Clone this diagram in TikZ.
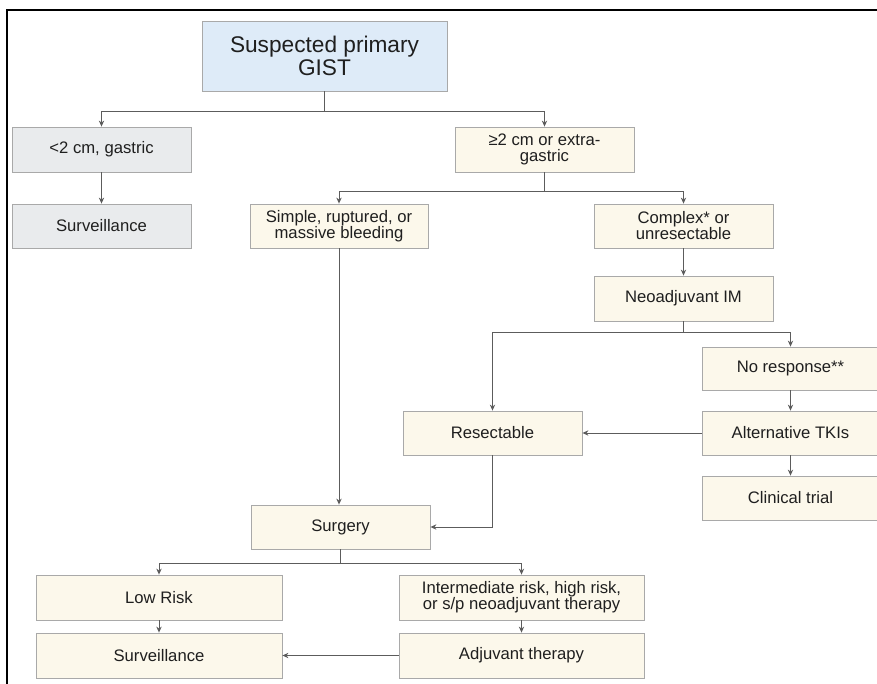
\documentclass[tikz,border=0pt]{standalone}
\usepackage{fontspec}
\setmainfont{Liberation Sans}
\usetikzlibrary{arrows.meta,shadows}
\definecolor{bluefill}{HTML}{DEEBF8}
\definecolor{grayfill}{HTML}{E9EBED}
\definecolor{creamfill}{HTML}{FCF8EB}
\definecolor{boxline}{HTML}{A9A9A9}
\definecolor{conn}{HTML}{5C5C5C}
\begin{document}
\begin{tikzpicture}[x=0.75pt,y=-0.75pt,
  base/.style={draw=boxline, line width=0.6pt, align=center, inner sep=0pt,
    text=black!88, font=\fontsize{12.5}{12}\selectfont,
    drop shadow={shadow xshift=0.8pt, shadow yshift=-0.8pt, opacity=0.18, fill=black}},
  bluebox/.style={base, fill=bluefill, font=\fontsize{17}{17}\selectfont},
  graybox/.style={base, fill=grayfill},
  creambox/.style={base, fill=creamfill},
  arr/.style={draw=conn, line width=0.7pt, -{Stealth[length=4.5pt,width=4pt]}},
  ln/.style={draw=conn, line width=0.7pt}]
\useasboundingbox (0,0) rectangle (877,684);
\fill[white] (0,0) rectangle (877,684);
\draw[line width=1.1pt] (7,690) -- (7,10) -- (880,10);

\node[bluebox, minimum width=245*0.75pt, minimum height=70*0.75pt] (top) at (324.5,56) {Suspected primary\\GIST};
\node[graybox, minimum width=179*0.75pt, minimum height=45*0.75pt] (small) at (101.5,149.5) {<2 cm, gastric};
\node[graybox, minimum width=179*0.75pt, minimum height=44*0.75pt] (survA) at (101.5,226) {Surveillance};
\node[creambox, minimum width=179*0.75pt, minimum height=45*0.75pt] (big) at (544.5,149.5) {≥2 cm or extra-\\gastric};
\node[creambox, minimum width=178*0.75pt, minimum height=44*0.75pt] (simple) at (339,226) {Simple, ruptured, or\\massive bleeding};
\node[creambox, minimum width=179*0.75pt, minimum height=44*0.75pt] (complex) at (683.5,226) {Complex* or\\unresectable};
\node[creambox, minimum width=179*0.75pt, minimum height=45*0.75pt] (neo) at (683.5,298.5) {Neoadjuvant IM};
\node[creambox, minimum width=177*0.75pt, minimum height=43*0.75pt] (nores) at (790.5,368.5) {No response**};
\node[creambox, minimum width=177*0.75pt, minimum height=44*0.75pt] (alt) at (790.5,433) {Alternative TKIs};
\node[creambox, minimum width=179*0.75pt, minimum height=44*0.75pt] (res) at (492.5,433) {Resectable};
\node[creambox, minimum width=177*0.75pt, minimum height=44*0.75pt] (clin) at (790.5,498) {Clinical trial};
\node[creambox, minimum width=179*0.75pt, minimum height=44*0.75pt] (surg) at (340.5,527) {Surgery};
\node[creambox, minimum width=246*0.75pt, minimum height=45*0.75pt] (low) at (159,597.5) {Low Risk};
\node[creambox, minimum width=246*0.75pt, minimum height=45*0.75pt] (survB) at (159,655.5) {Surveillance};
\node[creambox, minimum width=245*0.75pt, minimum height=45*0.75pt] (inter) at (521.5,597.5) {Intermediate risk, high risk,\\or s/p neoadjuvant therapy};
\node[creambox, minimum width=245*0.75pt, minimum height=45*0.75pt] (adj) at (521.5,655.5) {Adjuvant therapy};

\coordinate (j1) at (top.south |- 0,111);
\coordinate (j2) at (big.south |- 0,191);
\coordinate (j3) at (neo.south |- 0,332);
\coordinate (j4) at (surg.south |- 0,563);

\draw[ln] (top.south) -- (j1);
\draw[arr] (j1) -| (small.north);
\draw[arr] (j1) -| (big.north);
\draw[arr] (small.south) -- (survA.north);
\draw[ln] (big.south) -- (j2);
\draw[arr] (j2) -| (simple.north);
\draw[arr] (j2) -| (complex.north);
\draw[arr] (complex.south) -- (neo.north);
\draw[ln] (neo.south) -- (j3);
\draw[arr] (j3) -| (res.north);
\draw[arr] (j3) -| (nores.north);
\draw[arr] (nores.south) -- (alt.north);
\draw[arr] (alt.south) -- (clin.north);
\draw[arr] (alt.west) -- (res.east);
\draw[arr] (simple.south) -- (simple.south |- surg.north);
\draw[arr] (res.south) |- (surg.east);
\draw[ln] (surg.south) -- (j4);
\draw[arr] (j4) -| (low.north);
\draw[arr] (j4) -| (inter.north);
\draw[arr] (low.south) -- (survB.north);
\draw[arr] (inter.south) -- (adj.north);
\draw[arr] (adj.west) -- (survB.east);
\end{tikzpicture}
\end{document}
